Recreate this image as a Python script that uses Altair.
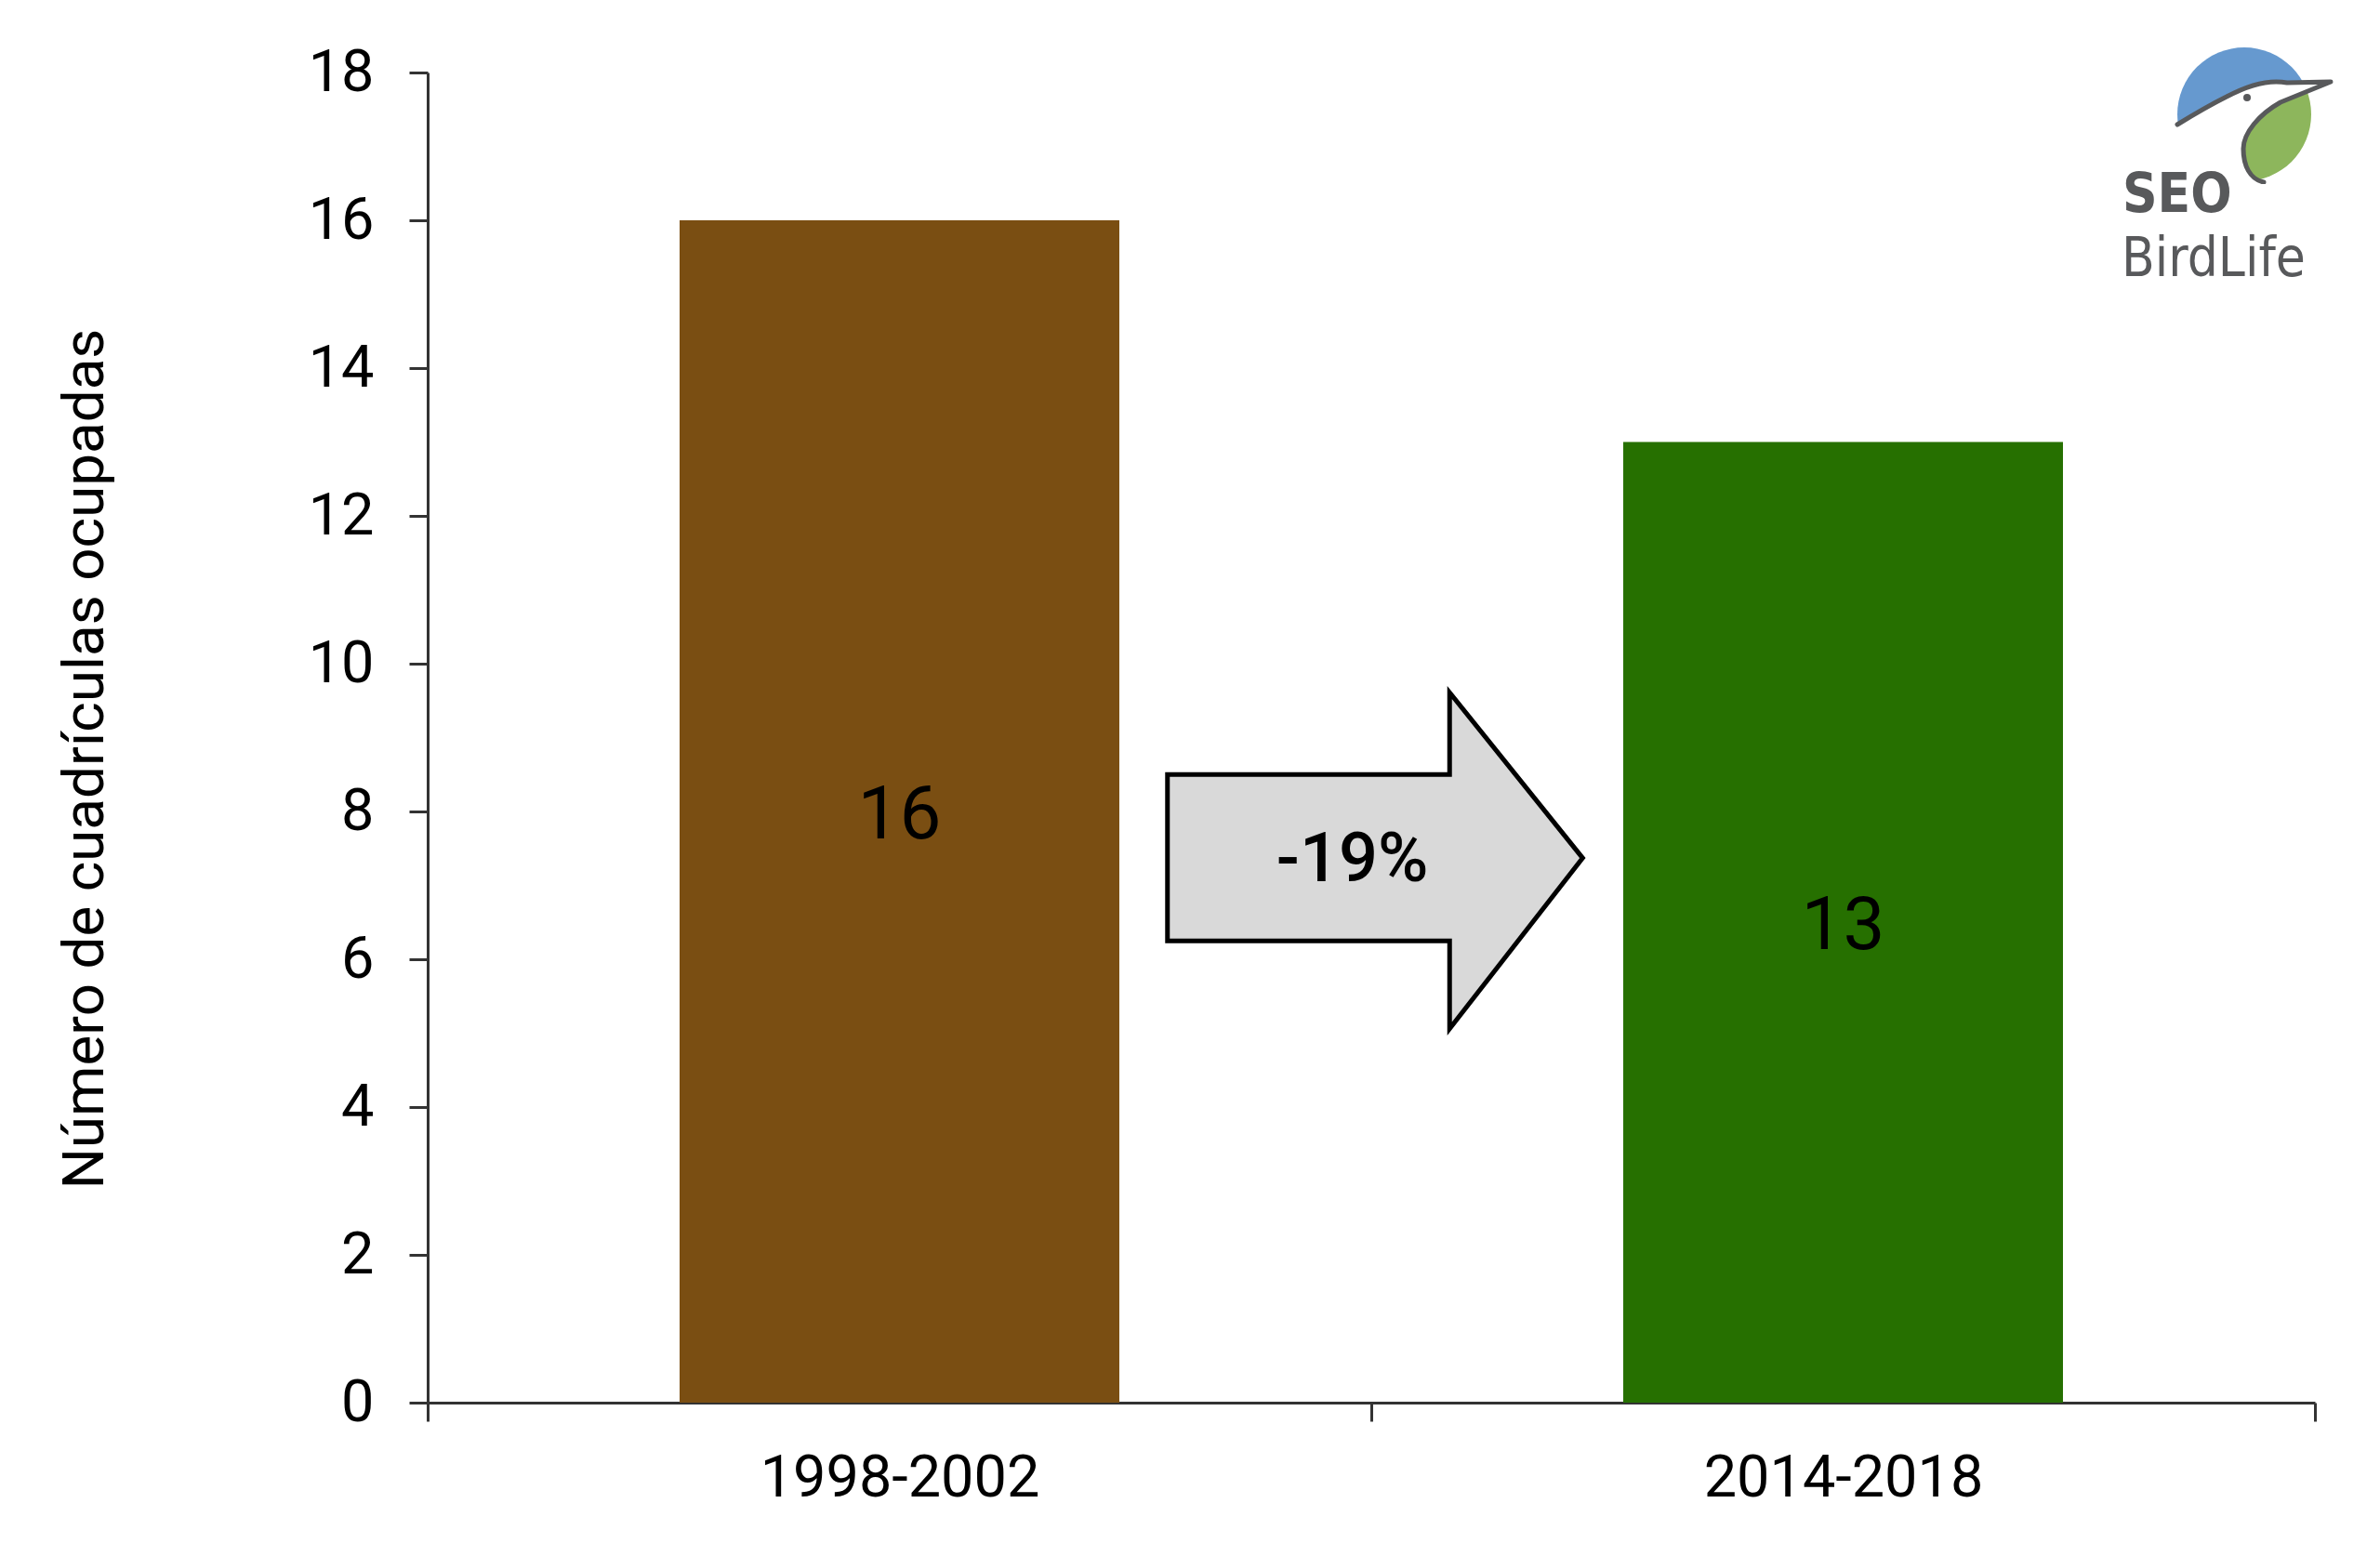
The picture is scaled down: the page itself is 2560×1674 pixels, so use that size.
import base64
import altair as alt
import pandas as pd

# ---- data ----
periods = ["1998-2002", "2014-2018"]
counts = [16, 13]
bar_colors = ["#7a4e12", "#267000"]
y_ticks = [0, 2, 4, 6, 8, 10, 12, 14, 16, 18]

# arrow annotation outline (x in category units 0..2, y in data units)
arrow_x = [0.784, 1.083, 1.083, 1.224, 1.083, 1.083, 0.784, 0.784]
arrow_y = [8.5, 8.5, 9.61, 7.37, 5.06, 6.25, 6.25, 8.5]
change_label = ["-19%"]
change_x = [0.98]
change_y = [7.33]

bars_df = pd.DataFrame({"period": periods, "count": counts})
arrow_df = pd.DataFrame({"i": list(range(len(arrow_x))), "x": arrow_x, "y": arrow_y})
label_df = pd.DataFrame({"label": change_label, "x": change_x, "y": change_y})

W, H = 2030, 1431
FONT = "Roboto"

yscale = alt.Scale(domain=[0, 18], nice=False, zero=True)

bars = alt.Chart(bars_df).mark_bar(width=alt.RelativeBandSize(0.466)).encode(
    x=alt.X("period:N", sort=periods,
            scale=alt.Scale(paddingInner=0, paddingOuter=0),
            axis=alt.Axis(title=None, labelAngle=0, tickBand="extent",
                          labelFontSize=63, labelFont=FONT, labelColor="#000000",
                          labelLimit=2000, labelPadding=30, tickSize=20,
                          tickWidth=3, domainWidth=3,
                          tickColor="#333333", domainColor="#333333")),
    y=alt.Y("count:Q", scale=yscale,
            axis=alt.Axis(title="Número de cuadrículas ocupadas", values=y_ticks,
                          format="d", grid=False, labelFontSize=63, labelFont=FONT,
                          labelColor="#000000", labelPadding=38, tickSize=20,
                          tickWidth=3, domainWidth=3, tickColor="#333333",
                          domainColor="#333333", titleFont=FONT, titleFontSize=62,
                          titleFontWeight="normal", titleColor="#000000",
                          titleAngle=-90, titleX=-350, titleY=738,
                          titleAlign="center", titleBaseline="alphabetic")),
    color=alt.Color("period:N", scale=alt.Scale(domain=periods, range=bar_colors),
                    legend=None),
)

bar_text = alt.Chart(bars_df).transform_calculate(
    mid="datum.count / 2"
).mark_text(font=FONT, fontSize=80, color="#000000", baseline="middle",
            align="center", dy=5).encode(
    x=alt.X("period:N", sort=periods),
    y=alt.Y("mid:Q", scale=yscale),
    text=alt.Text("count:Q"),
)

base_layer = alt.layer(bars, bar_text)

xq = alt.Scale(domain=[0, 2], nice=False, zero=False)

arrow = alt.Chart(arrow_df).mark_line(
    fill="#d9d9d9", stroke="#000000", strokeWidth=5, strokeJoin="miter",
    strokeCap="square", interpolate="linear"
).encode(
    x=alt.X("x:Q", scale=xq, axis=None),
    y=alt.Y("y:Q", scale=yscale),
    order=alt.Order("i:Q"),
)

arrow_text = alt.Chart(label_df).mark_text(
    font=FONT, fontSize=74, fontWeight=500, color="#000000",
    baseline="middle", align="center"
).encode(
    x=alt.X("x:Q", scale=xq, axis=None),
    y=alt.Y("y:Q", scale=yscale),
    text="label:N",
)

arrow_layer = alt.layer(arrow, arrow_text)

# ---- logo (graphic part as embedded svg, texts as real text) ----
logo_svg = """<svg xmlns='http://www.w3.org/2000/svg' width='180' height='150' viewBox='0 0 180 150'>
<defs><clipPath id='c'><circle cx='79' cy='75' r='72'/></clipPath></defs>
<path clip-path='url(#c)' fill='#6699cf' d='M0,0 L180,0 L180,40 L125,41 C110,38 90,40 60,56 C40,66 20,78 7,86 L0,90 Z'/>
<path clip-path='url(#c)' fill='#8db65c' d='M175,40 L118,62 C95,75 78,95 78,112 C78,130 85,145 100,148 L180,150 L180,40 Z'/>
<path fill='none' stroke='#58595b' stroke-width='5' stroke-linecap='round' stroke-linejoin='round'
 d='M7,86 C20,78 40,66 60,56 C90,40 110,38 125,41 L172,40 L118,62 C95,75 78,95 78,112 C78,130 85,145 100,148'/>
<circle cx='82' cy='57' r='4' fill='#58595b'/>
</svg>"""
logo_uri = "data:image/svg+xml;base64," + base64.b64encode(logo_svg.encode("utf-8")).decode("ascii")

logo_df = pd.DataFrame({"url": [logo_uri]})
logo_img = alt.Chart(logo_df).mark_image(
    width=180, height=150, align="left", baseline="top"
).encode(x=alt.value(1875), y=alt.value(-30), url="url:N")

logo_seo = alt.Chart(pd.DataFrame({"t": ["SEO"]})).mark_text(
    font="Liberation Sans Narrow, DejaVu Sans Condensed, sans-serif", fontSize=58,
    fontWeight="bold", color="#58595b", align="left", baseline="alphabetic"
).encode(x=alt.value(1823), y=alt.value(150), text="t:N")

logo_bird = alt.Chart(pd.DataFrame({"t": ["BirdLife"]})).mark_text(
    font="Liberation Sans Narrow, DejaVu Sans Condensed, sans-serif", fontSize=58,
    fontWeight="normal", color="#58595b", align="left", baseline="alphabetic"
).encode(x=alt.value(1822), y=alt.value(219), text="t:N")

chart = alt.layer(base_layer, arrow_layer, logo_img, logo_seo, logo_bird).resolve_scale(
    x="independent"
).properties(
    width=W, height=H,
    autosize=alt.AutoSizeParams(type="none"),
    padding={"left": 452, "top": 70, "right": 62, "bottom": 157},
    background="white",
).configure_view(stroke=None)

chart.save("out.html", embed_options={"renderer": "svg", "actions": False})
